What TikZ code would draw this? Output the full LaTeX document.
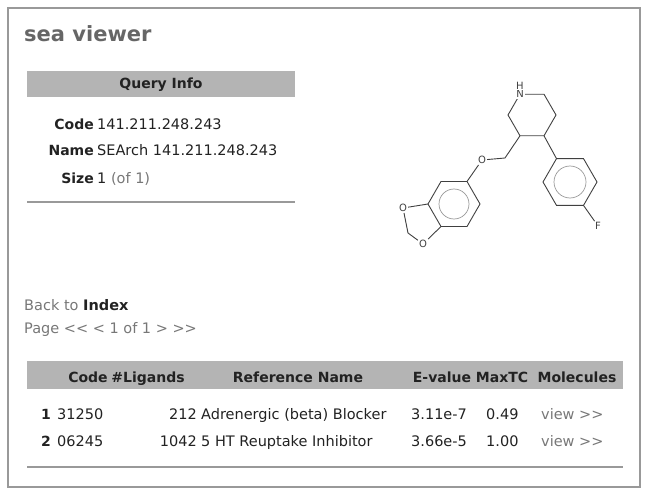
\documentclass[tikz,border=0pt]{standalone}
\usepackage{fontspec}
\setmainfont{DejaVu Sans}[Ligatures=NoCommon]
\usetikzlibrary{calc,positioning}
\definecolor{txt}{HTML}{222222}
\definecolor{dim}{HTML}{777777}
\definecolor{bar}{HTML}{B4B4B4}
\definecolor{rule}{HTML}{999999}
\tikzset{
  lbl/.style={inner sep=0pt, text=txt, font=\fontsize{14.5}{16}\selectfont},
  hdr/.style={lbl, font=\fontsize{14}{16}\selectfont\bfseries},
  bond/.style={draw=black!75, line width=0.9pt},
  atom/.style={inner sep=1pt, fill=white, text=black!75, font=\fontsize{10}{11}\selectfont}
}
\newcommand{\lt}{{<}}
\newcommand{\gt}{{>}}
\begin{document}
\begin{tikzpicture}[x=1pt,y=-1pt]
\useasboundingbox (0,0) rectangle (649,495);
\draw[rule, line width=2pt] (8,8) rectangle (640,487); % frame
\node[lbl, anchor=base west, text=black!60, font=\fontsize{21}{24}\selectfont\bfseries] (title) at (24,42) {sea viewer};
% query info
\fill[bar] (27,71) rectangle (295,97);
\node[hdr] (qi) at (161,85) {Query Info};
\node[hdr, anchor=base east] (kcode) at (94,129) {Code};
\node[lbl, anchor=base west] (vcode) at (97,129) {141.211.248.243};
\node[hdr, anchor=base east] (kname) at (94,156) {Name};
\node[lbl, anchor=base west] (vname) at (97,156) {SEArch 141.211.248.243};
\node[hdr, anchor=base east] (ksize) at (94,183) {Size};
\node[lbl, anchor=base west] (vsize) at (97,183) {1 \textcolor{dim}{(of 1)}};
\draw[rule, line width=1.5pt] (27,202) -- (295,202);
% links
\node[lbl, anchor=base west, text=dim] (back) at (24,310) {Back to \textcolor{txt}{\bfseries Index}};
\node[lbl, anchor=base west, text=dim] (page) at (24,333) {Page \lt\lt{} \lt{} 1 of 1 \gt{} \gt\gt};
% table
\fill[bar] (27,361) rectangle (623,389);
\foreach \x/\t/\n in {88/Code/hcode, 148/\#Ligands/hlig, 298/Reference Name/href, 442/E-value/hev, 502/MaxTC/hmax, 577/Molecules/hmol}
  \node[hdr, anchor=base] (\n) at (\x,382) {\t};
\foreach \y/\i/\c/\l/\r/\e/\m [count=\k] in {419/1/31250/212/Adrenergic (beta) Blocker/3.11e-7/0.49, 446/2/06245/1042/5 HT Reuptake Inhibitor/3.66e-5/1.00} {
  \node[hdr, anchor=base west] (n\k) at (41,\y) {\i};
  \node[lbl, anchor=base west] (c\k) at (57,\y) {\c};
  \node[lbl, anchor=base east] (l\k) at (197,\y) {\l};
  \node[lbl, anchor=base west] (r\k) at (201,\y) {\r};
  \node[lbl, anchor=base west] (e\k) at (411,\y) {\e};
  \node[lbl, anchor=base west] (m\k) at (486,\y) {\m};
  \node[lbl, anchor=base west, text=dim] (v\k) at (541,\y) {view \gt\gt};
}
\draw[rule, line width=1.5pt] (27,467) -- (623,467);
% molecule: piperidine
\coordinate (pc) at (532,115);
\foreach \a [count=\k] in {0,60,120,180,240,300}
  \coordinate (p\k) at ($(pc)+(-\a:24)$);
\draw[bond] (p1) -- (p2) -- (p3) -- (p4) -- (p5) -- (p6) -- cycle;
\node[atom] (nh) at (p3) {N};
\node[atom, above=-1pt of nh] (h) {H};
% fluorophenyl
\coordinate (fc) at (570,182);
\foreach \a [count=\k] in {0,60,120,180,240,300}
  \coordinate (f\k) at ($(fc)+(\a:27)$);
\draw[bond] (f1) -- (f2) -- (f3) -- (f4) -- (f5) -- (f6) -- cycle;
\draw[draw=black!40, line width=0.7pt] (fc) circle (16);
\draw[bond] (p6) -- (f5);
\node[atom] (fl) at (598,226) {F};
\draw[bond] (f2) -- (fl);
% benzodioxole
\coordinate (bc) at (454,204);
\foreach \a [count=\k] in {0,60,120,180,240,300}
  \coordinate (b\k) at ($(bc)+(\a:26)$);
\draw[bond] (b1) -- (b2) -- (b3) -- (b4) -- (b5) -- (b6) -- cycle;
\draw[draw=black!40, line width=0.7pt] (bc) circle (15);
\coordinate (ch) at (505,158);
\node[atom] (ox) at (482,160) {O};
\draw[bond] (p5) -- (ch) -- (ox) -- (b6);
\node[atom] (o1) at (403,208) {O};
\node[atom] (o2) at (423,244) {O};
\coordinate (dm) at (408,233);
\draw[bond] (b4) -- (o1) -- (dm) -- (o2) -- (b3);
\end{tikzpicture}
\end{document}
